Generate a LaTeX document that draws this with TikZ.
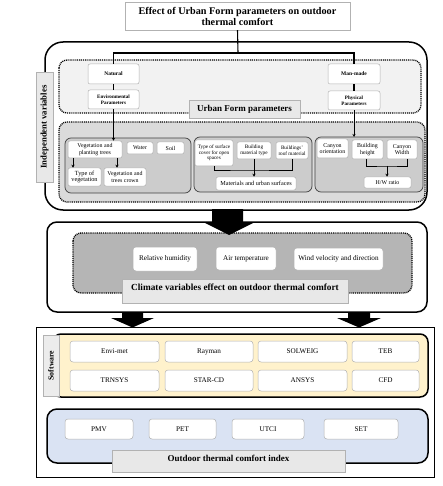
\documentclass[tikz,border=0pt]{standalone}
\usepackage{fontspec}
\setmainfont{Liberation Serif}
\usetikzlibrary{arrows.meta}
\definecolor{softyellow}{HTML}{FFF2CC}
\definecolor{softblue}{HTML}{DAE3F3}
\tikzset{
  wb/.style={draw=gray!60, fill=white, rounded corners=2pt, align=center, inner sep=0.5pt, line width=0.5pt},
  tiny/.style={font=\fontsize{5.2}{5.6}\selectfont},
  small/.style={font=\fontsize{5.9}{6.4}\selectfont},
  mid/.style={font=\fontsize{7.2}{8}\selectfont},
  bsmall/.style={font=\bfseries\fontsize{5.5}{6.2}\selectfont},
  lbl/.style={draw=gray!60, fill=gray!18, align=center, inner sep=0pt, font=\bfseries\fontsize{9}{10}\selectfont},
  conn/.style={line width=1.1pt},
  arr/.style={line width=0.9pt, -{Stealth[length=3pt,width=3pt]}},
  thick box/.style={draw=black, line width=1.5pt},
  dotreg/.style={draw=black, line width=1.3pt, dash pattern=on 1pt off 0.9pt},
  grp/.style={draw=black!75, line width=0.7pt, fill=gray!40, rounded corners=6pt},
}
\begin{document}
\begin{tikzpicture}[x=1pt,y=-1pt]
\useasboundingbox (0,0) rectangle (442,486);
% ---------------- title
\node[draw=gray!60, fill=white, minimum width=225, minimum height=28, align=center, inner sep=0pt,
      font=\bfseries\fontsize{10.2}{11}\selectfont] (title) at (237.5,16)
  {Effect of Urban Form parameters on outdoor\\thermal comfort};
% ---------------- box 1
\draw[thick box, rounded corners=18pt, fill=white] (45,42) rectangle (427,210);
\draw[dotreg, fill=gray!10, rounded corners=8pt] (59,60) rectangle (421,113);
\draw[dotreg, fill=gray!28, rounded corners=8pt] (59,122) rectangle (425,202);
\node[lbl, rotate=90, minimum width=110, minimum height=17, font=\bfseries\fontsize{8.7}{9}\selectfont] (indep) at (44.5,127) {Independent variables};
\node[lbl, minimum width=111, minimum height=18] (ufp) at (244.5,109) {Urban Form parameters};

\node[wb, bsmall, minimum width=51, minimum height=20] (nat) at (113.5,74) {Natural};
\node[wb, font=\bfseries\fontsize{5.1}{5.8}\selectfont, minimum width=51, minimum height=19] (env) at (113.5,99.5) {Environmental\\Parameters};
\node[wb, bsmall, minimum width=52, minimum height=20] (man) at (354,74) {Man-made};
\node[wb, font=\bfseries\fontsize{5.1}{5.8}\selectfont, minimum width=52, minimum height=19] (phy) at (354,100.5) {Physical\\Parameters};

\coordinate (tj) at (238,53);
\draw[conn] (title.south) -- (tj);
\draw[conn] (nat.north) |- (tj) -| (man.north);
\draw[conn] (nat) -- (env);
\draw[conn] (man) -- (phy);

% groups
\draw[grp] (65,138) rectangle (191,193);
\draw[grp] (194,137) rectangle (312,192);
\draw[grp] (315,137) rectangle (423,192);
\coordinate (g3top) at (354,137);

\node[wb, small, minimum width=54, minimum height=17] (veg) at (95,149.5) {Vegetation and\\planting trees};
\node[wb, small, minimum width=26, minimum height=12] (water) at (140,148) {Water};
\node[wb, small, minimum width=27, minimum height=12] (soil) at (170.5,148) {Soil};
\node[wb, font=\fontsize{6.3}{6.8}\selectfont, minimum width=33, minimum height=18] (tveg) at (84.5,177) {Type of\\vegetation};
\node[wb, small, minimum width=42, minimum height=18] (crown) at (125,177) {Vegetation and\\trees crown};

\node[wb, tiny, minimum width=38, minimum height=26] (tsurf) at (214,153) {Type of surface\\cover for open\\spaces};
\node[wb, tiny, minimum width=34, minimum height=17] (bmat) at (254,150.5) {Building\\material type};
\node[wb, tiny, minimum width=32, minimum height=17] (roof) at (292,150.5) {Buildings'\\roof material};
\node[wb, font=\fontsize{6.2}{6.8}\selectfont, minimum width=80, minimum height=13] (mat) at (256,183.5) {Materials and urban surfaces};

\node[wb, small, minimum width=31, minimum height=19] (corient) at (332.5,148.5) {Canyon\\orientation};
\node[wb, small, minimum width=31, minimum height=19] (bheight) at (367.5,149.5) {Building\\height};
\node[wb, small, minimum width=30, minimum height=19] (cwidth) at (402,149.5) {Canyon\\Width};
\node[wb, small, minimum width=47, minimum height=11] (hw) at (387.5,182.5) {H/W ratio};

\draw[arr] (env.south) -- (veg.north -| env.south);
\draw[arr] (phy.south) -- (g3top);
\coordinate (vl) at (73,158);
\coordinate (vr) at (117,158);
\draw[arr] (vl) -- (tveg.north -| vl);
\draw[arr] (vr) -- (crown.north -| vr);
\coordinate (mj) at (246,170);
\draw[conn, line width=0.9pt] (tsurf.south) |- (mj) -| (roof.south);
\draw[arr] (bmat.south) -- (mat.north -| bmat.south);
\coordinate (cj) at (387,166);
\coordinate (bhb) at (366,159);
\coordinate (cwb) at (407,159);
\draw[conn, line width=0.9pt] (bhb) |- (cj) -| (cwb);
\draw[arr] (cj) -- (hw.north -| cj);

% ---------------- box 2
\draw[thick box, rounded corners=10pt, fill=white] (47,222) rectangle (427,312);
\draw[dotreg, fill=gray!58, rounded corners=8pt] (73,233) rectangle (412,293);
\node[wb, mid, minimum width=64, minimum height=24, rounded corners=3pt] (rh) at (165,259) {Relative humidity};
\node[wb, mid, minimum width=60, minimum height=23, rounded corners=3pt] (at) at (246,258.5) {Air temperature};
\node[wb, mid, minimum width=89, minimum height=22, rounded corners=3pt] (wv) at (338.5,259) {Wind velocity and direction};
\draw[draw=gray!60, fill=gray!18] (122,279) rectangle (348,303);
\node[font=\bfseries\fontsize{9.3}{10}\selectfont, inner sep=0pt] (clim) at (235,287) {Climate variables effect on outdoor thermal comfort};

% big arrow 1
\fill (212,209) -- (243,209) -- (243,222) -- (255,222) -- (229,235) -- (203,222) -- (212,222) -- cycle;

% ---------------- box 3
\draw[line width=0.7pt, fill=white] (36,327) rectangle (434,477);
\draw[thick box, fill=softyellow, rounded corners=8pt] (53,334) rectangle (428,397);
\node[lbl, rotate=90, minimum width=61, minimum height=16, fill=gray!15, font=\bfseries\fontsize{7.8}{8}\selectfont] (sw) at (51,365.5) {Software};

\foreach \nm/\tx/\cx/\w in {envi/Envi-met/114.5/89, ray/Rayman/209/88, solw/SOLWEIG/302.5/89, teb/TEB/385.5/67}
  \node[wb, mid, rounded corners=3pt, minimum width=\w, minimum height=21] (\nm) at (\cx,351.5) {\tx};
\foreach \nm/\tx/\cx/\w in {trn/TRNSYS/114.5/89, star/STAR-CD/209/88, ansys/ANSYS/302.5/89, cfd/CFD/385.5/67}
  \node[wb, mid, rounded corners=3pt, minimum width=\w, minimum height=21] (\nm) at (\cx,380.5) {\tx};

\draw[thick box, fill=softblue, rounded corners=10pt] (47,409) rectangle (428,463);
\foreach \nm/\tx/\cx/\w in {pmv/PMV/99/68, pet/PET/182.5/67, utci/UTCI/268/72, set/SET/361/74}
  \node[wb, mid, rounded corners=3pt, minimum width=\w, minimum height=20] (\nm) at (\cx,429) {\tx};
\draw[draw=gray!60, fill=gray!18] (112,450) rectangle (345,472);
\node[font=\bfseries\fontsize{9}{10}\selectfont, inner sep=0pt] (oti) at (228.5,458) {Outdoor thermal comfort index};

% big arrows 2,3
\fill (122,312) -- (143,312) -- (143,318) -- (154,318) -- (132.5,327.5) -- (111,318) -- (122,318) -- cycle;
\fill (348,312) -- (370,312) -- (370,318) -- (381,318) -- (359,327.5) -- (337,318) -- (348,318) -- cycle;
\end{tikzpicture}
\end{document}
